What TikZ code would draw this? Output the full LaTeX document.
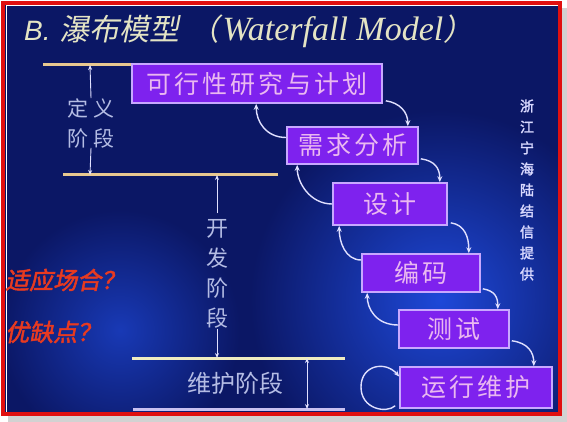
\documentclass[tikz,border=0pt]{standalone}
\usepackage{fontspec}
\setmainfont{Liberation Serif}
\newfontfamily\cjk{Noto Sans CJK SC}
\newfontfamily\cjkbox[LetterSpace=12]{Noto Sans CJK SC}
\newfontfamily\cjkwide[LetterSpace=25]{Noto Sans CJK SC}
\newfontfamily\cjkslant[FakeSlant=0.2]{Noto Sans CJK SC}
\newfontfamily\cjkred[FakeSlant=0.2,FakeBold=2]{Noto Sans CJK SC}
\newfontfamily\cjkbold[FakeBold=2]{Noto Sans CJK SC}
\newfontfamily\titlesans{Liberation Sans}
\usetikzlibrary{arrows.meta}
\definecolor{bgblue}{HTML}{0B1765}
\definecolor{glow}{HTML}{1E48D8}
\definecolor{boxfill}{HTML}{7E22EE}
\definecolor{boxline}{HTML}{C8A8FF}
\definecolor{boxtext}{HTML}{EAB8F0}
\definecolor{tan}{HTML}{E8C890}
\definecolor{cream}{HTML}{F0ECC0}
\definecolor{lav}{HTML}{C8C0F0}
\definecolor{phasetext}{HTML}{B4BCE4}
\definecolor{arrowc}{HTML}{E0E0FF}
\definecolor{titlec}{HTML}{E4E4C4}
\definecolor{redtext}{HTML}{E83A20}
\definecolor{frame}{HTML}{E01010}
\tikzset{
  stagebox/.style={draw=boxline, line width=1.6pt, fill=boxfill, text=boxtext,
    font=\cjkbox\fontsize{25}{27}\selectfont, inner sep=0pt},
  flowarr/.style={draw=arrowc, line width=1.4pt, -{Stealth[length=6pt,width=5pt]}},
  phasearr/.style={draw=arrowc, line width=0.9pt, -{Stealth[length=5pt,width=4pt]}},
  phaseline/.style={line width=3pt},
  phasetxt/.style={text=phasetext, align=center, inner sep=0pt}
}
\begin{document}
\begin{tikzpicture}[x=1pt,y=-1pt]
\useasboundingbox (0,0) rectangle (567,422);
\fill[white] (0,0) rectangle (567,422);
\fill[gray!35] (8,8) rectangle (567,422);
\fill[bgblue] (5,5) rectangle (559,413);
\begin{scope}
\clip (5,5) rectangle (559,413);
\shade[inner color=glow, outer color=bgblue] (440,300) circle[radius=190];
\shade[inner color=glow!70!bgblue, outer color=bgblue] (120,330) circle[radius=120];
\end{scope}
\draw[white, line width=1pt] (6,6) rectangle (558,412);

% title
\node[anchor=west, text=titlec, inner sep=0pt] (title) at (24,31)
  {{\titlesans\itshape\fontsize{28}{30}\selectfont B.}\hspace{9pt}{\cjkslant\fontsize{30}{30}\selectfont 瀑布模型}\hspace{10pt}{\cjkslant\fontsize{30}{30}\selectfont （}\hspace{3pt}{\itshape\fontsize{34}{30}\selectfont Waterfall Model}{\cjkslant\fontsize{30}{30}\selectfont ）}};

% phase lines
\draw[tan, phaseline] (43,65) -- (140,65);
\draw[tan, phaseline] (63,175) -- (278,175);
\draw[cream, phaseline] (132,358) -- (345,358);
\draw[lav, phaseline] (133,409) -- (345,409);

\coordinate (d1) at (90,65);
\coordinate (d2) at (90,175);
\coordinate (k1) at (217,175);
\coordinate (k2) at (217,358);
\coordinate (m1) at (307,358);
\coordinate (m2) at (307,409);

% stage boxes
\node[stagebox, minimum width=250, minimum height=39] (b1) at (257,83.5) {可行性研究与计划};
\node[stagebox, minimum width=131, minimum height=37] (b2) at (352.5,145.5) {需求分析};
\node[stagebox, minimum width=114, minimum height=42] (b3) at (390,204) {设计};
\node[stagebox, minimum width=118, minimum height=38] (b4) at (421,273) {编码};
\node[stagebox, minimum width=110, minimum height=38] (b5) at (454,329) {测试};
\node[stagebox, minimum width=152, minimum height=41] (b6) at (476,387.5) {运行维护};

% forward arrows
\draw[flowarr] ([shift={(3,-3)}]b1.south east) .. controls +(14,2) and +(0,-14) .. ([xshift=-11]b2.north east);
\draw[flowarr] ([shift={(2,-6)}]b2.south east) .. controls +(14,2) and +(0,-14) .. ([xshift=-8]b3.north east);
\draw[flowarr] ([shift={(3,-3)}]b3.south east) .. controls +(14,2) and +(0,-16) .. ([xshift=-12]b4.north east);
\draw[flowarr] ([shift={(2,-4)}]b4.south east) .. controls +(12,2) and +(0,-12) .. ([xshift=-12]b5.north east);
\draw[flowarr] ([shift={(2,-8)}]b5.south east) .. controls +(16,2) and +(0,-14) .. ([xshift=-19]b6.north east);

% backward arrows
\draw[flowarr] ([yshift=8]b2.west) .. controls +(-20,0) and +(0,18) .. ([xshift=125]b1.south west);
\draw[flowarr] (b3.west) .. controls +(-22,0) and +(0,18) .. ([xshift=11]b2.south west);
\draw[flowarr] ([yshift=13]b4.west) .. controls +(-16,0) and +(0,16) .. ([xshift=7]b3.south west);
\draw[flowarr] ([yshift=4]b5.west) .. controls +(-22,0) and +(0,16) .. ([xshift=6]b4.south west);

% loop
\coordinate (loopl) at (361,387);
\draw[flowarr] ([shift={(-4,-3)}]b6.south west) .. controls +(-9,8) and +(0,22) .. (loopl) .. controls +(0,-22) and +(-14,-16) .. ([yshift=11]b6.west);

% frame on top
\draw[frame, line width=4pt] (3,3) rectangle (560,414);

% phase labels
\node[phasetxt, font=\cjkwide\fontsize{21}{30}\selectfont] (dy) at (91,123) {定义\\阶段};
\draw[phasearr] (dy.north) -- (d1);
\draw[phasearr] (dy.south) -- (d2);
\node[phasetxt, font=\cjk\fontsize{22}{30}\selectfont] (kf) at (217,274) {开\\发\\阶\\段};
\draw[phasearr] ([yshift=6]kf.north) -- (k1);
\draw[phasearr] (kf.south) -- (k2);
\node[phasetxt, font=\cjk\fontsize{24}{26}\selectfont] (wh) at (235,383) {维护阶段};
\draw[phasearr, {Stealth[length=5pt,width=4pt]}-{Stealth[length=5pt,width=4pt]}] (m1) -- (m2);

% red questions
\node[anchor=west, text=redtext, inner sep=0pt, font=\cjkred\fontsize{24}{26}\selectfont] (q1) at (5,280) {适应场合？};
\node[anchor=west, text=redtext, inner sep=0pt, font=\cjkred\fontsize{24}{26}\selectfont] (q2) at (5,332) {优缺点？};

% vertical credit
\node[align=center, inner sep=0pt, text=white!85!blue, font=\cjkbold\fontsize{14}{21}\selectfont] (credit) at (527,190) {浙\\江\\宁\\海\\陆\\结\\信\\提\\供};
\end{tikzpicture}
\end{document}
